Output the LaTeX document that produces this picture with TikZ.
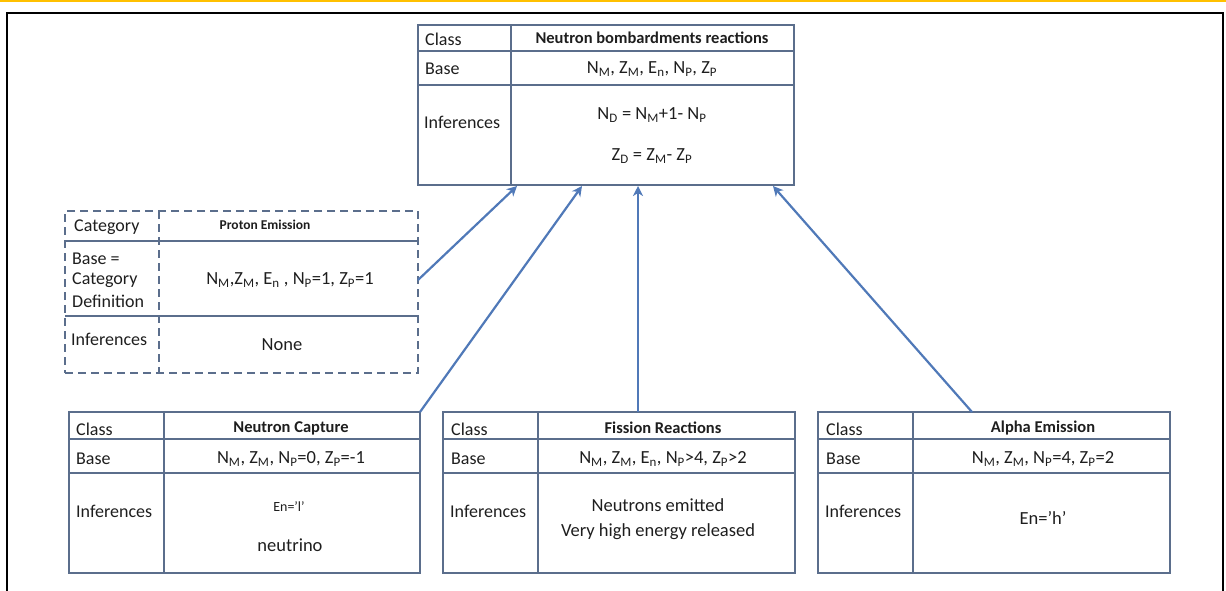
\documentclass[tikz,border=0pt]{standalone}
\usepackage{fontspec}
\setmainfont{Carlito}
\usetikzlibrary{arrows.meta}
\definecolor{gridline}{HTML}{5B6E8C}
\definecolor{linkblue}{HTML}{5079B8}
\definecolor{inkdark}{HTML}{1E1E1E}
\definecolor{rulegold}{HTML}{FFC000}
\tikzset{
  frame/.style={draw=gridline, line width=1.8pt},
  dframe/.style={draw=gridline, line width=1.8pt, dash pattern=on 8pt off 5pt},
  rowline/.style={draw=gridline, line width=1.2pt},
  tbl/.style={inner sep=0pt, outer sep=0pt, anchor=north west},
  lbl/.style={anchor=west, inner sep=0pt, text=inkdark, font=\fontsize{18}{20}\selectfont},
  val/.style={inner sep=0pt, text=inkdark, font=\fontsize{18.5}{20}\selectfont},
  hdr/.style={inner sep=0pt, text=inkdark, font=\fontsize{16.5}{18}\selectfont\bfseries},
  small/.style={inner sep=0pt, text=inkdark, font=\fontsize{14}{15}\selectfont},
  link/.style={draw=linkblue, line width=2.2pt, -{Stealth[length=10pt,width=10pt,inset=3pt]}},
}
\newcommand{\sub}[1]{\textsubscript{#1}}
\begin{document}
\begin{tikzpicture}[x=1pt,y=-1pt]
\useasboundingbox (0,0) rectangle (1226,590);
% page rules
\draw[rulegold, line width=1.5pt] (0,0.75) -- (1226,0.75);
\draw[black, line width=2.2pt] (7,591) -- (7,13) -- (1223,13) -- (1223,591);

% ---- top class: Neutron bombardments reactions
\node[tbl, frame, minimum width=376pt, minimum height=160pt] (top) at (418,25) {};
\draw[rowline] (418,51) -- (794,51) (418,85) -- (794,85);
\draw[frame] (511,25) -- (511,185);
\node[lbl] (tc) at (425,39) {Class};
\node[lbl] (tb) at (425,69) {Base};
\node[lbl] (ti) at (424,122) {Inferences};
\node[hdr] (th) at (652,38) {Neutron bombardments reactions};
\node[val] (tv) at (652,69) {N\sub{M}, Z\sub{M}, E\sub{n}, N\sub{P}, Z\sub{P}};
\node[val] (tf1) at (652,115) {N\sub{D} = N\sub{M}+1- N\sub{P}};
\node[val] (tf2) at (652,156) {Z\sub{D} = Z\sub{M}- Z\sub{P}};

% ---- category: Proton Emission (dashed)
\node[tbl, dframe, minimum width=353pt, minimum height=162pt] (prot) at (65,211) {};
\draw[rowline] (65,241) -- (418,241) (65,316) -- (418,316);
\draw[dframe] (159,211) -- (159,373);
\node[lbl] (pc) at (74,227) {Category};
\node[lbl] (pb1) at (72,259) {Base =};
\node[lbl] (pb2) at (72,280) {Category};
\node[lbl] (pb3) at (72,301) {Definition};
\node[lbl] (pi) at (71,339) {Inferences};
\node[small, font=\fontsize{13.5}{15}\selectfont\bfseries] (ph) at (265,225) {Proton Emission};
\node[val] (pv) at (290,280) {N\sub{M},Z\sub{M}, E\sub{n} , N\sub{P}=1, Z\sub{P}=1};
\node[val] (pn) at (282,345) {None};

% ---- class: Neutron Capture
\node[tbl, frame, minimum width=351pt, minimum height=161pt] (capt) at (69,412) {};
\draw[rowline] (69,439) -- (420,439) (69,473) -- (420,473);
\draw[frame] (164,412) -- (164,573);
\node[lbl] (cc) at (76,429) {Class};
\node[lbl] (cb) at (76,459) {Base};
\node[lbl] (ci) at (76,511) {Inferences};
\node[hdr] (ch) at (291,428) {Neutron Capture};
\node[val] (cv) at (291,459) {N\sub{M}, Z\sub{M}, N\sub{P}=0, Z\sub{P}=-1};
\node[small] (ce) at (289,507) {En=’l’};
\node[val] (cn) at (290,545) {neutrino};

% ---- class: Fission Reactions
\node[tbl, frame, minimum width=352pt, minimum height=161pt] (fiss) at (443,412) {};
\draw[rowline] (443,439) -- (795,439) (443,473) -- (795,473);
\draw[frame] (538,412) -- (538,573);
\node[lbl] (fc) at (451,429) {Class};
\node[lbl] (fb) at (451,459) {Base};
\node[lbl] (fi) at (450,511) {Inferences};
\node[hdr] (fh) at (663,428) {Fission Reactions};
\node[val] (fv) at (663,459) {N\sub{M}, Z\sub{M}, E\sub{n}, N\sub{P}>4, Z\sub{P}>2};
\node[val] (fe1) at (658,505) {Neutrons emitted};
\node[val] (fe2) at (658,532) {Very high energy released};

% ---- class: Alpha Emission
\node[tbl, frame, minimum width=352pt, minimum height=161pt] (alph) at (818,412) {};
\draw[rowline] (818,439) -- (1170,439) (818,473) -- (1170,473);
\draw[frame] (913,412) -- (913,573);
\node[lbl] (ac) at (826,429) {Class};
\node[lbl] (ab) at (826,459) {Base};
\node[lbl] (ai) at (825,511) {Inferences};
\node[hdr] (ah) at (1043,428) {Alpha Emission};
\node[val] (av) at (1043,459) {N\sub{M}, Z\sub{M}, N\sub{P}=4, Z\sub{P}=2};
\node[val] (ae) at (1043,518) {En=’h’};

% ---- connectors to the parent class
\coordinate (pout) at (prot.east |- 0,280);
\coordinate (aout) at (972,412);
\coordinate (fout) at (638,412);
\coordinate (in1) at (517,186);
\coordinate (in2) at (582,186);
\coordinate (in3) at (638,186);
\coordinate (in4) at (773,186);
\draw[link] (pout) -- (in1);
\draw[link] (capt.north east) -- (in2);
\draw[link] (fout) -- (in3);
\draw[link] (aout) -- (in4);
\end{tikzpicture}
\end{document}
